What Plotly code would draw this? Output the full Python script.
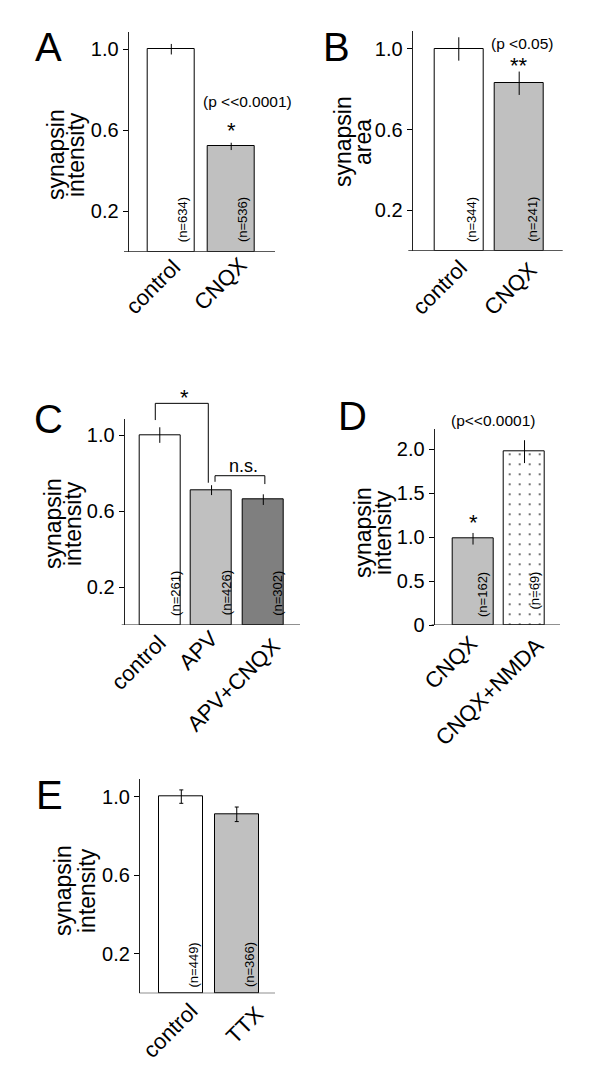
import plotly.graph_objects as go

W, H = 600, 1089
FONT = "Liberation Sans, Arial, sans-serif"

# ---------------- data ----------------
A_cats = ["control", "CNQX"]
A_vals = [1.0, 0.52]
A_err = [0.026, 0.018]
A_n = ["(n=634)", "(n=536)"]
A_colors = ["white", "#c0c0c0"]

B_cats = ["control", "CNQX"]
B_vals = [1.0, 0.83]
B_err = [0.058, 0.058]
B_n = ["(n=344)", "(n=241)"]
B_colors = ["white", "#c0c0c0"]

C_cats = ["control", "APV", "APV+CNQX"]
C_vals = [1.0, 0.71, 0.66]
C_err = [0.041, 0.026, 0.028]
C_n = ["(n=261)", "(n=426)", "(n=302)"]
C_colors = ["white", "#c0c0c0", "#7f7f7f"]

D_cats = ["CNQX", "CNQX+NMDA"]
D_vals = [0.98, 1.97]
D_err = [0.066, 0.13]
D_n = ["(n=162)", "(n=69)"]
D_colors = ["#c0c0c0", "white"]
D_patterns = ["", "."]

E_cats = ["control", "TTX"]
E_vals = [1.0, 0.91]
E_err = [0.034, 0.037]
E_n = ["(n=449)", "(n=366)"]
E_colors = ["white", "#c0c0c0"]

Y_TICKS_1 = [0.2, 0.6, 1.0]
Y_TICKTEXT_1 = ["0.2", "0.6", "1.0"]
Y_TICKS_D = [0, 0.5, 1.0, 1.5, 2.0]
Y_TICKTEXT_D = ["0", "0.5", "1.0", "1.5", "2.0"]

# ---------------- panel geometry (pixels) ----------------
panels = [
    dict(key="A", cats=A_cats, vals=A_vals, err=A_err, n=A_n, colors=A_colors,
         yx=128.7, xr=275, base=251.7, top=32, xl=124, xrange=[-0.711, 1.731],
         yrange=[0, 1.085], bw=0.79, ticks=Y_TICKS_1, ticktext=Y_TICKTEXT_1,
         nx=[0.2, 1.2], ny=[0.157, 0.157], cap=0,
         lab=[(12, 5), (19, 3)],
         title=["synapsin", "intensity"], tx=[56, 76], ty=155,
         letter=(48, 47)),
    dict(key="B", cats=B_cats, vals=B_vals, err=B_err, n=B_n, colors=B_colors,
         yx=412.7, xr=562.7, base=250.7, top=31, xl=408.3, xrange=[-0.763, 1.72],
         yrange=[0, 1.089], bw=0.81, ticks=Y_TICKS_1, ticktext=Y_TICKTEXT_1,
         nx=[0.21, 1.23], ny=[0.154, 0.154], cap=0,
         lab=[(11, 7), (21, 9)],
         title=["synapsin", "area"], tx=[343, 363], ty=142,
         letter=(336, 47)),
    dict(key="C", cats=C_cats, vals=C_vals, err=C_err, n=C_n, colors=C_colors,
         yx=124.7, xr=300, base=625, top=419.3, xl=121.7, xrange=[-0.678, 2.709],
         yrange=[0, 1.083], bw=0.79, ticks=Y_TICKS_1, ticktext=Y_TICKTEXT_1,
         nx=[0.29, 1.28, 2.26], ny=[0.168, 0.168, 0.168], cap=0,
         lab=[(8.5, 7), (8.5, 3), (20, 10)],
         title=["synapsin", "intensity"], tx=[53, 73], ty=524,
         letter=(48, 419)),
    dict(key="D", cats=D_cats, vals=D_vals, err=D_err, n=D_n, colors=D_colors,
         yx=434.7, xr=560, base=625, top=429.3, xl=431.7, xrange=[-0.744, 1.689],
         yrange=[0, 2.224], bw=0.79, ticks=Y_TICKS_D, ticktext=Y_TICKTEXT_D,
         nx=[0.17, 1.2], ny=[0.35, 0.39], cap=0, pattern=D_patterns,
         lab=[(7, 8), (22, 10)],
         title=["synapsin", "intensity"], tx=[363, 383], ty=533,
         letter=(352, 416)),
    dict(key="E", cats=E_cats, vals=E_vals, err=E_err, n=E_n, colors=E_colors,
         yx=140, xr=275, base=993.3, top=779.3, xl=139.3, xrange=[-0.745, 1.69],
         yrange=[0, 1.088], bw=0.79, ticks=Y_TICKS_1, ticktext=Y_TICKTEXT_1,
         nx=[0.22, 1.24], ny=[0.144, 0.144], cap=2,
         lab=[(19, 7), (30, 10)],
         title=["synapsin", "intensity"], tx=[63, 87], ty=891,
         letter=(49, 795)),
]


def to_paper(p, xv, yv):
    """Convert data coordinates of a panel to paper fractions."""
    px = p["yx"] + (xv - p["xrange"][0]) / (p["xrange"][1] - p["xrange"][0]) * (p["xr"] - p["yx"])
    py = p["base"] - yv / p["yrange"][1] * (p["base"] - p["top"])
    return px / W, 1 - py / H


fig = go.Figure()
shapes = []
annotations = []
layout = {}

for i, p in enumerate(panels, start=1):
    xa = "x" if i == 1 else f"x{i}"
    ya = "y" if i == 1 else f"y{i}"
    xname = "xaxis" if i == 1 else f"xaxis{i}"
    yname = "yaxis" if i == 1 else f"yaxis{i}"
    marker = dict(color=p["colors"], line=dict(color="black", width=1))
    if "pattern" in p:
        marker["pattern"] = dict(shape=p["pattern"], fgcolor="black", fgopacity=1,
                                 size=10, solidity=0.03, fillmode="overlay")
    fig.add_trace(go.Bar(
        x=list(range(len(p["cats"]))), y=p["vals"], width=p["bw"],
        marker=marker, xaxis=xa, yaxis=ya, showlegend=False, cliponaxis=False,
        error_y=dict(type="data", array=p["err"], color="black",
                     thickness=1, width=p["cap"]),
    ))
    layout[xname] = dict(
        domain=[p["yx"] / W, p["xr"] / W], anchor=ya, range=p["xrange"],
        showticklabels=False, ticks="", showline=False, showgrid=False,
        zeroline=False, fixedrange=True,
    )
    layout[yname] = dict(
        domain=[1 - p["base"] / H, 1 - p["top"] / H], anchor=xa,
        range=p["yrange"], tickvals=p["ticks"], ticktext=p["ticktext"],
        ticks="outside", ticklen=5, tickwidth=1.2, tickcolor="black",
        showline=True, linewidth=1.2, linecolor="#222",
        showgrid=False, zeroline=False,
        tickfont=dict(size=20, color="black", family=FONT), fixedrange=True,
    )
    # x-axis baseline
    dom_w = p["xr"] - p["yx"]
    shapes.append(dict(type="line", xref=f"{xa} domain", yref=ya,
                       x0=(p["xl"] - p["yx"]) / dom_w, x1=1, y0=0, y1=0,
                       line=dict(color="#222", width=1.2)))
    # rotated category labels
    for k, c in enumerate(p["cats"]):
        cx, _ = to_paper(p, k, 0)
        dx, dy = p["lab"][k]
        annotations.append(dict(xref="paper", yref="paper",
                                x=cx + (dx + 5) / W, y=1 - (p["base"] + dy - 5) / H,
                                text=c, textangle=-45, showarrow=False,
                                xanchor="right", yanchor="top",
                                font=dict(size=22, color="black", family=FONT)))
    # n labels
    for k, t in enumerate(p["n"]):
        annotations.append(dict(xref=xa, yref=ya, x=p["nx"][k], y=p["ny"][k],
                                text=t, textangle=-90, showarrow=False,
                                font=dict(size=13, color="black", family=FONT)))
    # y titles (two separate lines)
    for k, t in enumerate(p["title"]):
        annotations.append(dict(xref="paper", yref="paper",
                                x=p["tx"][k] / W, y=1 - p["ty"] / H,
                                text=t, textangle=-90, showarrow=False,
                                xanchor="center", yanchor="middle",
                                font=dict(size=23, color="black", family=FONT)))
    # panel letter
    lx, ly = p["letter"]
    annotations.append(dict(xref="paper", yref="paper", x=lx / W, y=1 - ly / H,
                            text=p["key"], showarrow=False,
                            xanchor="center", yanchor="middle",
                            font=dict(size=40, color="black", family=FONT)))

PA, PB, PC, PD, PE = panels


def txt(p, x, y, s, size):
    X, Y = to_paper(p, x, y)
    annotations.append(dict(xref="paper", yref="paper", x=X, y=Y, text=s,
                            showarrow=False, xanchor="center", yanchor="middle",
                            font=dict(size=size, color="black", family=FONT)))


txt(PA, 1.28, 0.741, "(p &lt;&lt;0.0001)", 15.5)
txt(PA, 1.0, 0.60, "*", 22)
txt(PB, 1.04, 1.028, "(p &lt;0.05)", 15.5)
txt(PB, 1.0, 0.92, "**", 22)
txt(PC, 0.468, 1.20, "*", 22)
txt(PC, 1.61, 0.835, "n.s.", 18)
txt(PD, 0.39, 2.32, "(p&lt;&lt;0.0001)", 15.5)
txt(PD, 0.0, 1.16, "*", 22)

# brackets in C
BR_STAR = [(-0.087, 1.079), (-0.087, 1.167), (0.937, 1.167), (0.937, 0.749)]
BR_NS = [(1.067, 0.754), (1.067, 0.786), (2.03, 0.786), (2.03, 0.742)]
for br in (BR_STAR, BR_NS):
    pts = [to_paper(PC, x, y) for x, y in br]
    path = "M " + " L ".join(f"{x:.5f},{y:.5f}" for x, y in pts)
    shapes.append(dict(type="path", xref="paper", yref="paper", path=path,
                       line=dict(color="black", width=1)))

fig.update_layout(
    width=W, height=H, margin=dict(l=0, r=0, t=0, b=0, autoexpand=False),
    paper_bgcolor="white", plot_bgcolor="rgba(0,0,0,0)",
    shapes=shapes, annotations=annotations, bargap=0,
    font=dict(family=FONT, color="black"),
    **layout,
)

fig.write_html("out.html", config={"displayModeBar": False},
               post_script="document.body.style.margin='0';document.body.style.padding='0';")
